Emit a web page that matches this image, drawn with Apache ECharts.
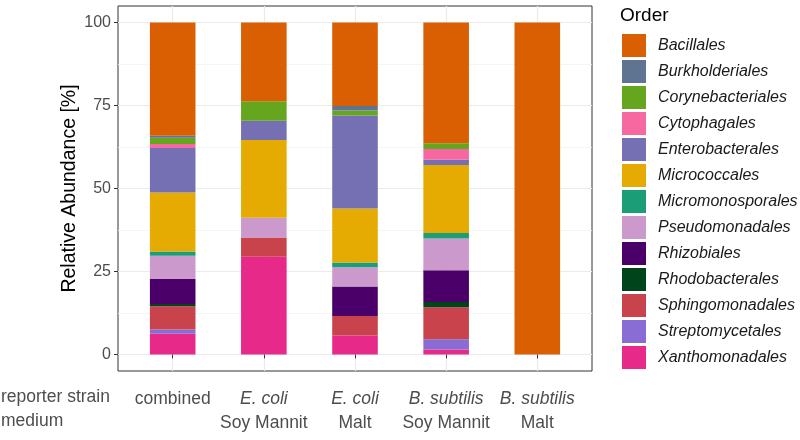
<!DOCTYPE html>
<html>
<head>
<meta charset="utf-8">
<script src="https://cdn.jsdelivr.net/npm/echarts@6/dist/echarts.min.js"></script>
<style>html,body{margin:0;padding:0;background:#fff;}#c{width:800px;height:440px;}</style>
</head>
<body>
<div id="c"></div>
<script>
// ---- data ----
var categories = ['combined|', 'E. coli|Soy Mannit', 'E. coli|Malt', 'B. subtilis|Soy Mannit', 'B. subtilis|Malt'];
var strains = ['combined', 'E. coli', 'E. coli', 'B. subtilis', 'B. subtilis'];
var strainItalic = [false, true, true, true, true];
var media = ['', 'Soy Mannit', 'Malt', 'Soy Mannit', 'Malt'];
var yTicks = [0, 25, 50, 75, 100];
var yMinorTicks = [12.5, 37.5, 62.5, 87.5];

var orders = ['Bacillales', 'Burkholderiales', 'Corynebacteriales', 'Cytophagales', 'Enterobacterales',
  'Micrococcales', 'Micromonosporales', 'Pseudomonadales', 'Rhizobiales', 'Rhodobacterales',
  'Sphingomonadales', 'Streptomycetales', 'Xanthomonadales'];

var Bacillales        = [34.1, 23.7, 25.1, 36.4, 100];
var Burkholderiales   = [0.6, 0, 1.4, 0, 0];
var Corynebacteriales = [1.9, 5.9, 1.5, 1.7, 0];
var Cytophagales      = [1.2, 0, 0, 3.2, 0];
var Enterobacterales  = [13.4, 5.8, 28.0, 1.6, 0];
var Micrococcales     = [17.8, 23.4, 16.3, 20.5, 0];
var Micromonosporales = [1.3, 0, 1.4, 1.7, 0];
var Pseudomonadales   = [7.0, 6.0, 5.8, 9.5, 0];
var Rhizobiales       = [7.5, 0, 8.9, 9.6, 0];
var Rhodobacterales   = [0.7, 0, 0, 1.6, 0];
var Sphingomonadales  = [7.0, 5.8, 5.9, 9.6, 0];
var Streptomycetales  = [1.3, 0, 0, 3.1, 0];
var Xanthomonadales   = [6.2, 29.4, 5.7, 1.5, 0];

var orderValues = {
  Bacillales: Bacillales, Burkholderiales: Burkholderiales, Corynebacteriales: Corynebacteriales,
  Cytophagales: Cytophagales, Enterobacterales: Enterobacterales, Micrococcales: Micrococcales,
  Micromonosporales: Micromonosporales, Pseudomonadales: Pseudomonadales, Rhizobiales: Rhizobiales,
  Rhodobacterales: Rhodobacterales, Sphingomonadales: Sphingomonadales, Streptomycetales: Streptomycetales,
  Xanthomonadales: Xanthomonadales
};
var orderColors = {
  Bacillales: '#D95F02', Burkholderiales: '#5F7490', Corynebacteriales: '#66A61E',
  Cytophagales: '#F768A1', Enterobacterales: '#7570B3', Micrococcales: '#E6AB02',
  Micromonosporales: '#1B9E77', Pseudomonadales: '#CC99CC', Rhizobiales: '#4A0068',
  Rhodobacterales: '#00441B', Sphingomonadales: '#C8434B', Streptomycetales: '#8A6DD4',
  Xanthomonadales: '#E7298A'
};

// ---- chart ----
var FONT = 'Liberation Sans, Arial, sans-serif';
var xPositions = strains.map(function (s, i) { return i + 1; });

// ggplot-style discrete expansion: panel spans 5.2 category units, bars use inner 5 units
var PANEL = { left: 118, right: 208, top: 6, bottom: 69 };
var unit = (800 - PANEL.left - PANEL.right) / 5.2;
var inset = 0.1 * unit;

var series = orders.slice().reverse().map(function (name) {
  return {
    name: name,
    type: 'bar',
    stack: 'total',
    xAxisIndex: 1,
    yAxisIndex: 2,
    barWidth: '50%',
    itemStyle: { color: orderColors[name] },
    data: orderValues[name]
  };
});

var chart = echarts.init(document.getElementById('c'), null, { renderer: 'canvas' });
chart.setOption({
  animation: false,
  backgroundColor: '#ffffff',
  textStyle: { fontFamily: FONT },
  title: {
    text: 'Order', left: 615, top: 1,
    textStyle: { fontFamily: FONT, fontSize: 19, fontWeight: 'normal', color: '#000' }
  },
  legend: {
    orient: 'vertical', left: 617, top: 29,
    itemWidth: 24, itemHeight: 23, itemGap: 3,
    icon: 'rect',
    data: orders,
    textStyle: { fontFamily: FONT, fontSize: 16, fontStyle: 'italic', color: '#1A1A1A', padding: [0, 0, 0, 7] },
    selectedMode: false
  },
  grid: [
    { left: PANEL.left, right: PANEL.right, top: PANEL.top, bottom: PANEL.bottom, show: true, borderColor: '#333333', borderWidth: 1, backgroundColor: '#fff' },
    { left: PANEL.left + inset, right: PANEL.right + inset, top: PANEL.top, bottom: PANEL.bottom }
  ],
  xAxis: [{
    gridIndex: 0,
    type: 'value', min: 0.4, max: 5.6,
    axisLine: { show: false },
    axisTick: { show: true, customValues: xPositions, length: 4, lineStyle: { color: '#333333', width: 1 } },
    splitLine: { show: true, lineStyle: { color: '#EBEBEB', width: 1.2 } },
    axisLabel: {
      customValues: xPositions, margin: 16,
      formatter: function (v) {
        var i = Math.round(v) - 1;
        var first = strainItalic[i] ? '{it|' + strains[i] + '}' : '{n|' + strains[i] + '}';
        return media[i] ? first + '\n{n|' + media[i] + '}' : first;
      },
      rich: {
        it: { fontFamily: FONT, fontSize: 17.5, fontStyle: 'italic', color: '#4D4D4D', lineHeight: 24 },
        n: { fontFamily: FONT, fontSize: 17.5, color: '#4D4D4D', lineHeight: 24 }
      }
    }
  }, {
    gridIndex: 1,
    type: 'category', data: categories, boundaryGap: true,
    axisLine: { show: false }, axisTick: { show: false }, axisLabel: { show: false }, splitLine: { show: false }
  }],
  yAxis: [{
    gridIndex: 0,
    type: 'value', min: -5, max: 105,
    name: 'Relative Abundance [%]', nameLocation: 'middle', nameGap: 38, nameMoveOverlap: false,
    nameTextStyle: { fontFamily: FONT, fontSize: 19.5, color: '#000' },
    axisLine: { show: false },
    axisTick: { show: true, customValues: yTicks, length: 4, lineStyle: { color: '#333333', width: 1 } },
    axisLabel: { customValues: yTicks, margin: 7, fontFamily: FONT, fontSize: 16, color: '#4D4D4D' },
    splitLine: { show: true, lineStyle: { color: '#EBEBEB', width: 1.2 } }
  }, {
    gridIndex: 0,
    type: 'value', min: -5, max: 105, position: 'left',
    axisLine: { show: false },
    axisTick: { show: false, customValues: yMinorTicks },
    axisLabel: { show: false, customValues: yMinorTicks },
    splitLine: { show: true, lineStyle: { color: '#F2F2F2', width: 0.8 } }
  }, {
    gridIndex: 1,
    type: 'value', min: -5, max: 105,
    axisLine: { show: false }, axisTick: { show: false }, axisLabel: { show: false }, splitLine: { show: false }
  }],
  graphic: [
    { type: 'text', left: 1, top: 388, style: { text: 'reporter strain', fontFamily: FONT, fontSize: 17.5, fill: '#4D4D4D' } },
    { type: 'text', left: 1, top: 412, style: { text: 'medium', fontFamily: FONT, fontSize: 17.5, fill: '#4D4D4D' } }
  ],
  series: series
});
</script>
</body>
</html>
